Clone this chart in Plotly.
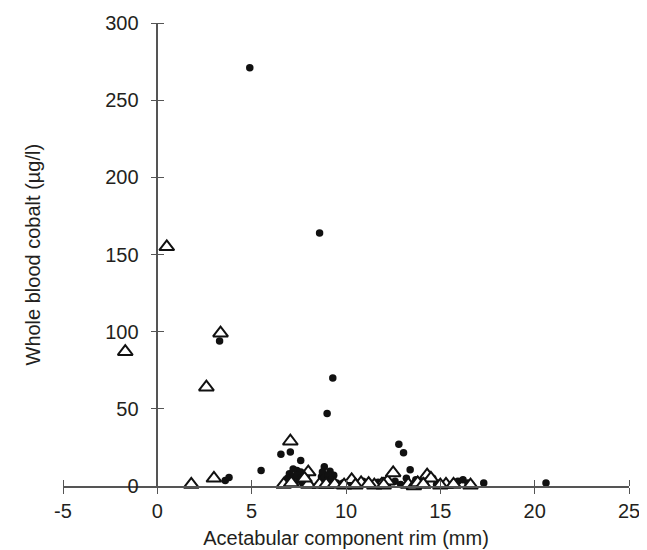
import plotly.graph_objects as go

# Filled circles series
dots_x = [4.9, 8.6, 3.3, 9.3, 9.0, 12.8, 13.05, 6.55, 7.05, 7.6, 5.5, 3.6, 3.8,
          8.85, 9.15, 9.35, 13.4, 13.2, 7.0, 7.2, 7.4, 7.6, 7.5, 7.1, 6.9, 7.7,
          7.3, 7.9, 8.7, 8.9, 9.0, 9.85, 9.7, 10.5, 10.9, 11.35, 11.7, 12.2,
          12.6, 12.9, 13.3, 13.5, 13.98, 14.2, 14.6, 14.96, 15.3, 15.93, 16.2,
          16.46, 17.3, 20.6, 10.2, 11.1, 12.0, 13.7, 14.8,
          7.2, 7.4, 7.6, 7.0, 7.8, 8.75, 8.8, 9.05, 9.2, 9.5, 9.3]
dots_y = [271, 164, 94, 70, 47, 27, 21.5, 20.5, 22, 16.5, 10, 3.5, 5.5,
          12.5, 9.5, 7, 10.5, 5, 8, 6, 10, 9, 4, 3, 5, 2,
          1.5, 6, 6, 4, 2, 2, 1, 1.5, 3, 1, 2.5, 1,
          3, 1, 2, 0.5, 3, 1, 5, 2, 1, 3, 4,
          2, 2, 2, 1, 2, 3.5, 4, 1,
          11, 7, 5, 2, 3, 9, 5, 7, 4, 2, 1]

# Open triangles series
tri_x = [0.5, -1.7, 3.35, 2.6, 7.05, 8.0, 1.8, 3.0, 6.7, 7.1, 8.0, 8.6, 8.95,
         9.4, 7.8, 10.3, 10.8, 10.5, 11.9, 12.2, 12.5, 11.5, 12.0, 13.3, 13.6,
         13.8, 14.3, 14.5, 14.1, 15.3, 15.7, 16.6, 15.0, 9.9, 11.2]
tri_y = [155, 87, 99, 64, 29, 9, 1, 5, 1, 2, 1, 1, 1,
         1, 5, 4, 2, 0.5, 1, 3, 8.5, 0.5, 0.5, 1, 0,
         2, 7, 5, 1, 1, 1, 0.5, 0.5, 0.5, 1.5]

x_ticks = [-5, 0, 5, 10, 15, 20, 25]
x_tick_labels = ["-5", "0", "5", "10", "15", "20", "25"]
y_ticks = [0, 50, 100, 150, 200, 250, 300]
y_tick_labels = ["0", "50", "100", "150", "200", "250", "300"]

FONT = "Liberation Sans, Arial, sans-serif"
TXT = "#231f20"
AX = "#555555"

fig = go.Figure()
fig.add_trace(go.Scatter(
    x=dots_x, y=dots_y, mode="markers", cliponaxis=False,
    marker=dict(symbol="circle", size=7.5, color="#111111", line=dict(width=0)),
    showlegend=False))
fig.add_trace(go.Scatter(
    x=tri_x, y=tri_y, mode="markers", cliponaxis=False,
    marker=dict(symbol="triangle-up", size=13, color="white",
                line=dict(width=2, color="#111111")),
    showlegend=False))
# invisible copy on the overlay axes so they (the inward tick halves) get drawn
fig.add_trace(go.Scatter(x=dots_x, y=dots_y, xaxis="x2", yaxis="y2", mode="markers",
                         marker=dict(opacity=0), showlegend=False, hoverinfo="skip"))

common_x = dict(range=[-5, 25], tickvals=x_ticks, ticktext=x_tick_labels,
                showgrid=False, zeroline=False, automargin=False,
                ticklen=6, tickwidth=1.3, tickcolor=AX)
common_y = dict(range=[0, 300], tickvals=y_ticks, ticktext=y_tick_labels,
                showgrid=False, zeroline=False, automargin=False,
                ticklen=6, tickwidth=1.3, tickcolor=AX)

fig.update_layout(
    width=647, height=550,
    margin=dict(l=55, r=26, t=15, b=72, autoexpand=False),
    paper_bgcolor="white", plot_bgcolor="white",
    font=dict(family=FONT, size=20, color=TXT),
    xaxis=dict(**common_x, domain=[0, 1], anchor="y", ticks="outside",
               showline=True, linecolor=AX, linewidth=1.5,
               tickfont=dict(size=20, color=TXT), ticklabelstandoff=0,
               title=dict(text="Acetabular component rim (mm)", standoff=10,
                          font=dict(size=20, color=TXT))),
    xaxis2=dict(**common_x, overlaying="x", anchor="free", position=0, side="top",
                ticks="outside", showticklabels=False, showline=False),
    yaxis=dict(**common_y, domain=[0, 1], anchor="free", position=5/30,
               ticks="outside", showline=True, linecolor=AX, linewidth=1.5,
               tickfont=dict(size=20, color=TXT), ticklabelstandoff=8),
    yaxis2=dict(**common_y, overlaying="y", anchor="free", position=5/30,
                side="right", ticks="outside", showticklabels=False, showline=False),
    annotations=[dict(text="Whole blood cobalt (µg/l)", xref="paper", yref="paper",
                      x=(24 - 55) / 566, y=0.5, xanchor="center", yanchor="middle",
                      textangle=-90, showarrow=False,
                      font=dict(size=20, color=TXT, family=FONT))],
)

fig.write_html("out.html")
